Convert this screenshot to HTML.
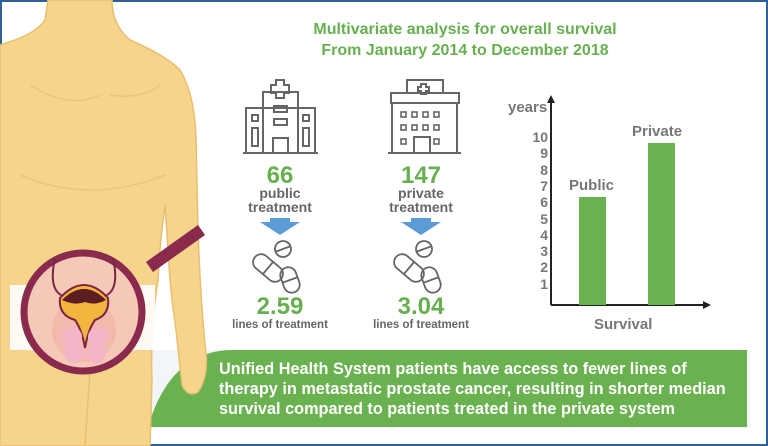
<!DOCTYPE html>
<html><head><meta charset="utf-8"><style>
html,body{margin:0;padding:0;}
body{width:768px;height:446px;overflow:hidden;background:#fff;font-family:"Liberation Sans",sans-serif;}
svg{display:block}
</style></head><body>
<svg width="768" height="446" viewBox="0 0 768 446" xmlns="http://www.w3.org/2000/svg" font-family="Liberation Sans, sans-serif" font-weight="bold">
<rect x="1" y="1" width="766" height="444" fill="#fff" stroke="#2f5f9a" stroke-width="2"/>
<circle cx="40" cy="120" r="85" fill="#eaf0f5"/>
<rect x="10" y="350" width="740" height="78" fill="#f3f6f8"/>
<!-- banner -->
<path d="M148 427 Q170 352 230 350 L747 350 L747 427 Z" fill="#6ab150"/>
<g fill="#fff" font-size="16.3">
<text x="219" y="374">Unified Health System patients have access to fewer lines of</text>
<text x="219" y="394">therapy in metastatic prostate cancer, resulting in shorter median</text>
<text x="219" y="414">survival compared to patients treated in the private system</text>
</g>
<!-- body -->
<path d="M48 0 L112 0 Q112 25 130 40 Q165 55 180 70 Q195 95 196 140 L198 230 Q200 290 205 345 Q210 375 198 392 Q188 398 182 385 L176 330 Q170 290 168 250 L165 205 Q160 240 158 280 Q150 330 152 380 L150 446 L0 446 L0 45 Q35 35 45 20 Z" fill="#f7d48c" stroke="#e8bf70" stroke-width="1.5"/>
<path d="M30 85 Q70 110 100 95 M110 95 Q140 100 160 85 M20 175 Q90 205 165 175" fill="none" stroke="#eac57c" stroke-width="1.5"/>
<path d="M85 446 L90 370" fill="none" stroke="#e8bf70" stroke-width="1.5"/>
<rect x="10" y="285" width="145" height="65" fill="#fff" opacity="0.9"/>
<!-- magnifier -->
<polygon points="146,262 198,225 205,235 153,272" fill="#8a2a4c"/>
<circle cx="83" cy="312" r="59" fill="#f5c8b8" stroke="#8a2a4c" stroke-width="7"/>
<circle cx="84" cy="330" r="32" fill="#f2a6a0" opacity="0.45"/>
<path d="M55 258 Q48 290 63 296 M113 258 Q120 290 105 296" fill="none" stroke="#7a2540" stroke-width="2"/>
<path d="M60 298 Q84 272 108 298 Q110 315 95 320 Q88 330 85 348 Q82 330 75 320 Q58 315 60 298Z" fill="#f4b53e" stroke="#7a2540" stroke-width="2"/>
<path d="M62 300 Q84 278 106 300 Q95 306 85 302 Q75 306 62 300Z" fill="#5a1e23"/>
<g fill="#f3b6c8"><circle cx="72" cy="337" r="10"/><circle cx="98" cy="337" r="10"/><circle cx="74" cy="353" r="10"/><circle cx="96" cy="353" r="10"/></g>
<!-- title -->
<g fill="#66b04f" font-size="16" text-anchor="middle">
<text x="465" y="34">Multivariate analysis for overall survival</text>
<text x="465" y="55">From January 2014 to December 2018</text>
</g>
<!-- hospital 1 -->
<g fill="none" stroke="#666" stroke-width="2">
<path d="M243 153 L318 153"/>
<rect x="246" y="108" width="69" height="45"/>
<rect x="263" y="92" width="35" height="61"/>
<path d="M276 80 h8 v5 h5 v8 h-5 v5 h-8 v-5 h-5 v-8 h5z"/>
<rect x="274" y="106" width="13" height="6"/><rect x="274" y="119" width="13" height="6"/>
<rect x="273" y="138" width="15" height="15"/>
<rect x="252" y="115" width="6" height="6"/><rect x="252" y="128" width="6" height="18"/>
<rect x="303" y="115" width="6" height="6"/><rect x="303" y="128" width="6" height="18"/>
</g>
<!-- hospital 2 -->
<g fill="none" stroke="#666" stroke-width="2">
<path d="M388 153 L461 153"/>
<rect x="392" y="103" width="65" height="50"/>
<rect x="391" y="93" width="68" height="10"/>
<rect x="407" y="80" width="36" height="13"/>
<path d="M421 84 h5 v3 h3 v4 h-3 v3 h-5 v-3 h-3 v-4 h3z"/>
<g stroke-width="1.6"><rect x="401" y="112" width="5" height="5"/><rect x="412" y="112" width="5" height="5"/><rect x="423" y="112" width="5" height="5"/><rect x="434" y="112" width="5" height="5"/>
<rect x="401" y="125" width="5" height="5"/><rect x="412" y="125" width="5" height="5"/><rect x="423" y="125" width="5" height="5"/><rect x="434" y="125" width="5" height="5"/>
<rect x="401" y="139" width="5" height="5"/><rect x="434" y="139" width="5" height="5"/></g>
<rect x="414" y="137" width="16" height="16"/>
</g>
<!-- counts -->
<g text-anchor="middle">
<text x="280" y="183" fill="#66b04f" font-size="24">66</text>
<text x="280" y="198" fill="#666" font-size="14">public</text>
<text x="280" y="212" fill="#666" font-size="14">treatment</text>
<text x="421" y="183" fill="#66b04f" font-size="24">147</text>
<text x="421" y="198" fill="#666" font-size="14">private</text>
<text x="421" y="212" fill="#666" font-size="14">treatment</text>
<text x="280" y="314" fill="#66b04f" font-size="24">2.59</text>
<text x="280" y="328" fill="#666" font-size="11.5">lines of treatment</text>
<text x="421" y="314" fill="#66b04f" font-size="24">3.04</text>
<text x="421" y="328" fill="#666" font-size="11.5">lines of treatment</text>
</g>
<!-- arrows -->
<polygon points="270,218 290,218 290,222 300,222 280,235 260,222 270,222" fill="#5a9bd8"/>
<polygon points="411,218 431,218 431,222 441,222 421,235 401,222 411,222" fill="#5a9bd8"/>
<!-- pills -->
<g fill="none" stroke="#666" stroke-width="1.8">
<g transform="translate(268,268) rotate(40)"><rect x="-17" y="-8" width="34" height="16" rx="8"/><path d="M0 -8 V8"/></g>
<g transform="translate(290,280) rotate(70)"><rect x="-13" y="-8" width="26" height="16" rx="8"/><path d="M0 -8 V8"/></g>
<g transform="translate(283,249) rotate(-20)"><circle r="8"/><path d="M-8 0 H8"/></g>
<g transform="translate(409,268) rotate(40)"><rect x="-17" y="-8" width="34" height="16" rx="8"/><path d="M0 -8 V8"/></g>
<g transform="translate(431,280) rotate(70)"><rect x="-13" y="-8" width="26" height="16" rx="8"/><path d="M0 -8 V8"/></g>
<g transform="translate(424,249) rotate(-20)"><circle r="8"/><path d="M-8 0 H8"/></g>
</g>
<!-- chart -->
<g stroke="#222" stroke-width="2"><path d="M551 305 V100"/><path d="M551 305 H706"/></g>
<polygon points="551,95 547,103 555,103" fill="#222"/>
<polygon points="711,305 703,301 703,309" fill="#222"/>
<rect x="579" y="197" width="27" height="108" fill="#6ab150"/>
<rect x="648" y="143" width="27" height="162" fill="#6ab150"/>
<g fill="#777" font-size="15">
<text x="508" y="112">years</text>
<text x="569" y="190">Public</text>
<text x="632" y="136">Private</text>
<text x="594" y="329">Survival</text>
</g>
<g fill="#777" font-size="14" text-anchor="end">
<text x="548" y="142">10</text><text x="548" y="158">9</text><text x="548" y="175">8</text><text x="548" y="191">7</text><text x="548" y="207">6</text><text x="548" y="224">5</text><text x="548" y="240">4</text><text x="548" y="256">3</text><text x="548" y="272">2</text><text x="548" y="289">1</text>
</g>
</svg>
</body></html>
